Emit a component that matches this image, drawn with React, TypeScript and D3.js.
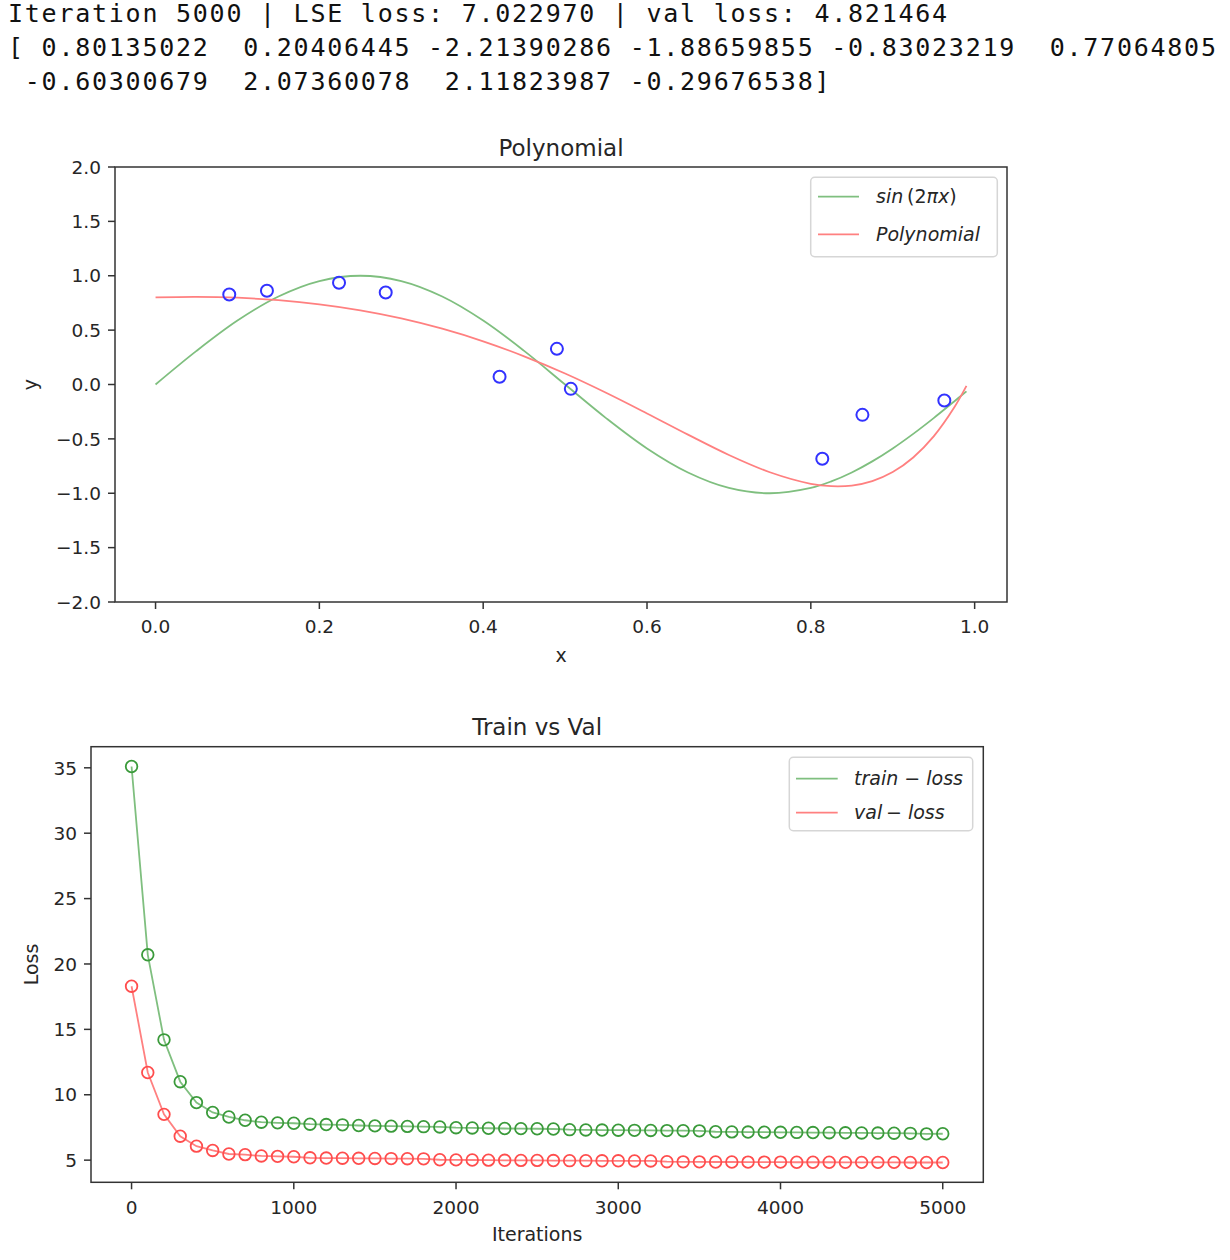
import React from 'react';
import * as d3 from 'd3';

// ---------- data ----------
const HEADER_ITER = 5000;
const HEADER_LSE = 7.02297;
const HEADER_VAL = 4.821464;
const COEFFS = [0.80135022, 0.20406445, -2.21390286, -1.88659855, -0.83023219, 0.77064805, -0.60300679, 2.07360078, 2.11823987, -0.29676538];

const CURVE_X = [0, 0.05, 0.1, 0.15, 0.2, 0.25, 0.3, 0.35, 0.4, 0.45, 0.5, 0.55, 0.6, 0.65, 0.7, 0.75, 0.8, 0.825, 0.85, 0.875, 0.9, 0.925, 0.95, 0.975, 0.99];
const SIN_Y = [0, 0.309, 0.588, 0.809, 0.951, 1.0, 0.951, 0.809, 0.588, 0.309, 0, -0.309, -0.588, -0.809, -0.951, -1.0, -0.951, -0.891, -0.809, -0.707, -0.588, -0.454, -0.309, -0.156, -0.063];
const POLY_Y = [0.801, 0.806, 0.798, 0.775, 0.737, 0.682, 0.608, 0.513, 0.397, 0.259, 0.101, -0.076, -0.266, -0.461, -0.648, -0.807, -0.913, -0.935, -0.929, -0.888, -0.805, -0.671, -0.477, -0.212, -0.013];

const PTS_X = [0.090, 0.136, 0.224, 0.281, 0.420, 0.490, 0.507, 0.814, 0.863, 0.963];
const PTS_Y = [0.828, 0.862, 0.935, 0.846, 0.071, 0.328, -0.040, -0.683, -0.279, -0.147];

const TOP_X_TICKS = [0, 0.2, 0.4, 0.6, 0.8, 1.0];
const TOP_Y_TICKS = [-2, -1.5, -1, -0.5, 0, 0.5, 1, 1.5, 2];

const ITERS = [0, 100, 200, 300, 400, 500, 600, 700, 800, 900, 1000, 1100, 1200, 1300, 1400, 1500, 1600, 1700, 1800, 1900, 2000, 2100, 2200, 2300, 2400, 2500, 2600, 2700, 2800, 2900, 3000, 3100, 3200, 3300, 3400, 3500, 3600, 3700, 3800, 3900, 4000, 4100, 4200, 4300, 4400, 4500, 4600, 4700, 4800, 4900, 5000];
const TRAIN_LOSS = [35.1, 20.7, 14.2, 11.0, 9.4, 8.65, 8.3, 8.05, 7.9, 7.85, 7.82, 7.75, 7.72, 7.7, 7.65, 7.62, 7.6, 7.58, 7.56, 7.54, 7.48, 7.46, 7.44, 7.42, 7.41, 7.4, 7.38, 7.33, 7.31, 7.3, 7.29, 7.28, 7.27, 7.26, 7.25, 7.24, 7.17, 7.16, 7.15, 7.14, 7.13, 7.12, 7.11, 7.1, 7.09, 7.08, 7.07, 7.06, 7.05, 7.01, 7.02];
const VAL_LOSS = [18.3, 11.7, 8.5, 6.83, 6.07, 5.74, 5.47, 5.42, 5.32, 5.29, 5.26, 5.18, 5.16, 5.15, 5.14, 5.13, 5.12, 5.11, 5.1, 5.03, 5.02, 5.01, 5.0, 4.99, 4.98, 4.98, 4.97, 4.96, 4.96, 4.95, 4.95, 4.94, 4.94, 4.88, 4.87, 4.87, 4.86, 4.86, 4.85, 4.85, 4.85, 4.84, 4.84, 4.84, 4.83, 4.83, 4.83, 4.83, 4.82, 4.82, 4.82];

const BOT_X_TICKS = [0, 1000, 2000, 3000, 4000, 5000];
const BOT_Y_TICKS = [5, 10, 15, 20, 25, 30, 35];

// ---------- style ----------
const FONT = "'DejaVu Sans', sans-serif";
const MONO = "'DejaVu Sans Mono', monospace";
const INK = '#262626';
const SPINE = '#333';
const GREEN_LINE = '#7fbf7f';
const RED_LINE = '#ff8080';
const GREEN_MK = '#3a9a3a';
const RED_MK = '#ff4d4d';
const BLUE_MK = '#3232ff';

const minus = (s: string) => s.replace('-', '\u2212');
const fmtNum = (v: number) => (v < 0 ? '-' : ' ') + Math.abs(v).toFixed(8);

function padDomain(vals: number[]): [number, number] {
  const [a, b] = d3.extent(vals) as [number, number];
  const p = (b - a) * 0.05;
  return [a - p, b + p];
}

export default function App() {
  // header text
  const line1 = `Iteration ${HEADER_ITER} | LSE loss: ${HEADER_LSE.toFixed(6)} | val loss: ${HEADER_VAL.toFixed(6)}`;
  const line2 = '[' + COEFFS.slice(0, 6).map(fmtNum).join(' ');
  const line3 = ' ' + COEFFS.slice(6).map(fmtNum).join(' ') + ']';

  // top chart
  const T = { l: 115, r: 1007, t: 167, b: 602 };
  const tx = d3.scaleLinear().domain(padDomain(CURVE_X)).range([T.l, T.r]);
  const ty = d3.scaleLinear().domain([-2, 2]).range([T.b, T.t]);
  const curveLine = d3
    .line<[number, number]>()
    .x((d) => tx(d[0]))
    .y((d) => ty(d[1]))
    .curve(d3.curveCatmullRom.alpha(0.5));
  const sinPath = curveLine(CURVE_X.map((x, i) => [x, SIN_Y[i]]))!;
  const polyPath = curveLine(CURVE_X.map((x, i) => [x, POLY_Y[i]]))!;

  // bottom chart
  const B = { l: 91, r: 983.3, t: 746.7, b: 1182.3 };
  const bx = d3.scaleLinear().domain(padDomain(ITERS)).range([B.l, B.r]);
  const by = d3.scaleLinear().domain(padDomain([...TRAIN_LOSS, ...VAL_LOSS])).range([B.b, B.t]);
  const lossLine = d3
    .line<[number, number]>()
    .x((d) => bx(d[0]))
    .y((d) => by(d[1]));
  const trainPath = lossLine(ITERS.map((x, i) => [x, TRAIN_LOSS[i]]))!;
  const valPath = lossLine(ITERS.map((x, i) => [x, VAL_LOSS[i]]))!;

  const tickFs = 18.5;
  const labelFs = 19;

  return (
    <svg
      width={1230}
      height={1260}
      viewBox="0 0 1230 1260"
      style={{ position: 'absolute', left: 0, top: 0, display: 'block', background: '#fff' }}
    >
      <rect x={0} y={0} width={1230} height={1260} fill="#fff" />
      {/* header */}
      <g fontFamily={MONO} fontSize={25} fill="#111" style={{ whiteSpace: 'pre', letterSpacing: '1.75px' }}>
        <text x={8} y={22} xmlSpace="preserve">{line1}</text>
        <text x={8} y={56} xmlSpace="preserve">{line2}</text>
        <text x={8} y={90} xmlSpace="preserve">{line3}</text>
      </g>

      {/* ===== top chart ===== */}
      <g fontFamily={FONT} fill={INK}>
        <text x={(T.l + T.r) / 2} y={156} textAnchor="middle" fontSize={23}>Polynomial</text>
        <path d={sinPath} fill="none" stroke={GREEN_LINE} strokeWidth={1.8} />
        <path d={polyPath} fill="none" stroke={RED_LINE} strokeWidth={1.8} />
        {PTS_X.map((x, i) => (
          <circle key={i} cx={tx(x)} cy={ty(PTS_Y[i])} r={6} fill="none" stroke={BLUE_MK} strokeWidth={2} />
        ))}
        <rect x={T.l} y={T.t} width={T.r - T.l} height={T.b - T.t} fill="none" stroke={SPINE} strokeWidth={1.5} />
        {TOP_X_TICKS.map((v) => (
          <g key={v}>
            <line x1={tx(v)} x2={tx(v)} y1={T.b} y2={T.b + 7} stroke={SPINE} strokeWidth={1.5} />
            <text x={tx(v)} y={633} textAnchor="middle" fontSize={tickFs}>{d3.format('.1f')(v)}</text>
          </g>
        ))}
        {TOP_Y_TICKS.map((v) => (
          <g key={v}>
            <line x1={T.l - 7} x2={T.l} y1={ty(v)} y2={ty(v)} stroke={SPINE} strokeWidth={1.5} />
            <text x={101} y={ty(v) + 6.7} textAnchor="end" fontSize={tickFs}>{minus(d3.format('.1f')(v))}</text>
          </g>
        ))}
        <text x={(T.l + T.r) / 2} y={662} textAnchor="middle" fontSize={labelFs}>x</text>
        <text transform={`translate(37,${(T.t + T.b) / 2}) rotate(-90)`} textAnchor="middle" fontSize={labelFs}>y</text>
        {/* legend */}
        <rect x={810.7} y={177.3} width={186.6} height={79.4} rx={4} fill="#fff" fillOpacity={0.8} stroke="#d6d6d6" strokeWidth={1.5} />
        <line x1={818} x2={859} y1={196.7} y2={196.7} stroke={GREEN_LINE} strokeWidth={1.8} />
        <line x1={818} x2={859} y1={234.3} y2={234.3} stroke={RED_LINE} strokeWidth={1.8} />
        <text x={876} y={203.2} fontSize={labelFs} style={{ whiteSpace: 'pre' }}>
          <tspan fontStyle="italic">sin</tspan>
          <tspan>{'\u2009(2'}</tspan>
          <tspan fontStyle="italic">πx</tspan>
          <tspan>)</tspan>
        </text>
        <text x={876} y={240.8} fontSize={labelFs} fontStyle="italic">Polynomial</text>
      </g>

      {/* ===== bottom chart ===== */}
      <g fontFamily={FONT} fill={INK}>
        <text x={(B.l + B.r) / 2} y={735} textAnchor="middle" fontSize={23}>Train vs Val</text>
        <path d={trainPath} fill="none" stroke={GREEN_LINE} strokeWidth={1.8} />
        <path d={valPath} fill="none" stroke={RED_LINE} strokeWidth={1.8} />
        {ITERS.map((x, i) => (
          <circle key={'t' + i} cx={bx(x)} cy={by(TRAIN_LOSS[i])} r={5.8} fill="none" stroke={GREEN_MK} strokeWidth={1.8} />
        ))}
        {ITERS.map((x, i) => (
          <circle key={'v' + i} cx={bx(x)} cy={by(VAL_LOSS[i])} r={5.8} fill="none" stroke={RED_MK} strokeWidth={1.8} />
        ))}
        <rect x={B.l} y={B.t} width={B.r - B.l} height={B.b - B.t} fill="none" stroke={SPINE} strokeWidth={1.5} />
        {BOT_X_TICKS.map((v) => (
          <g key={v}>
            <line x1={bx(v)} x2={bx(v)} y1={B.b} y2={B.b + 7} stroke={SPINE} strokeWidth={1.5} />
            <text x={bx(v)} y={1214} textAnchor="middle" fontSize={tickFs}>{String(v)}</text>
          </g>
        ))}
        {BOT_Y_TICKS.map((v) => (
          <g key={v}>
            <line x1={B.l - 7} x2={B.l} y1={by(v)} y2={by(v)} stroke={SPINE} strokeWidth={1.5} />
            <text x={77} y={by(v) + 6.7} textAnchor="end" fontSize={tickFs}>{String(v)}</text>
          </g>
        ))}
        <text x={(B.l + B.r) / 2} y={1241} textAnchor="middle" fontSize={labelFs}>Iterations</text>
        <text transform={`translate(38,${(B.t + B.b) / 2}) rotate(-90)`} textAnchor="middle" fontSize={labelFs}>Loss</text>
        {/* legend */}
        <rect x={789.3} y={757.3} width={183.4} height={73.4} rx={4} fill="#fff" fillOpacity={0.8} stroke="#d6d6d6" strokeWidth={1.5} />
        <line x1={796} x2={837.7} y1={778.7} y2={778.7} stroke={GREEN_LINE} strokeWidth={1.8} />
        <line x1={796} x2={837.7} y1={812.7} y2={812.7} stroke={RED_LINE} strokeWidth={1.8} />
        <text x={854} y={785.2} fontSize={labelFs} style={{ whiteSpace: 'pre' }}>
          <tspan fontStyle="italic">train</tspan>
          <tspan> − </tspan>
          <tspan fontStyle="italic">loss</tspan>
        </text>
        <text x={854} y={819.2} fontSize={labelFs} style={{ whiteSpace: 'pre' }}>
          <tspan fontStyle="italic">val</tspan>
          <tspan>{'\u2009− '}</tspan>
          <tspan fontStyle="italic">loss</tspan>
        </text>
      </g>
    </svg>
  );
}
